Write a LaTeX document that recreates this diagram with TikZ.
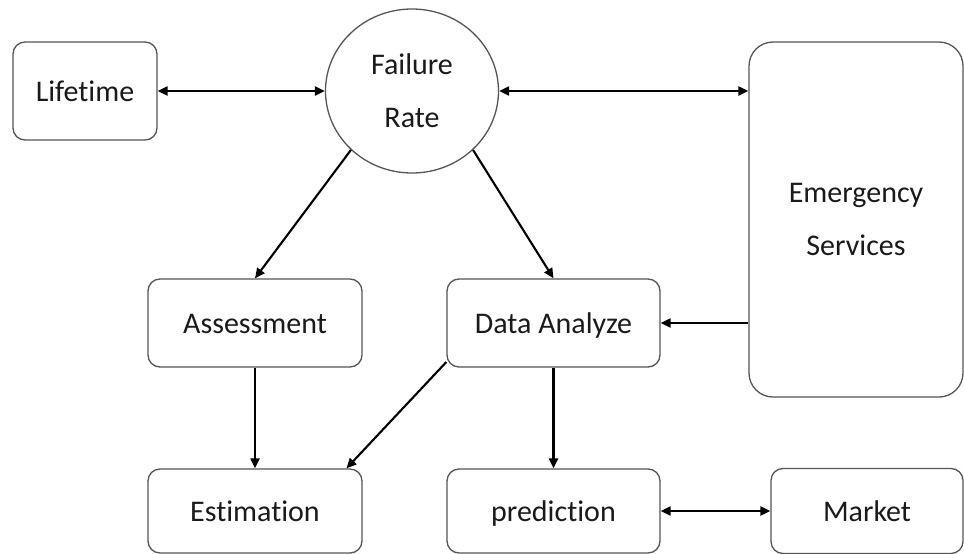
\documentclass[tikz,border=0pt]{standalone}
\usepackage{fontspec}
\setmainfont{Carlito}[Ligatures=CommonOff]
\usetikzlibrary{arrows.meta,shapes.geometric}
\definecolor{edgegrey}{HTML}{555555}
\definecolor{inkdark}{HTML}{1A1A1A}
\begin{document}
\begin{tikzpicture}[x=1pt,y=-1pt,
  every node/.style={font=\fontsize{30}{53}\selectfont,text=inkdark},
  frame/.style={draw=edgegrey,line width=1.3pt,rectangle,inner sep=0pt},
  box/.style={frame,rounded corners=12pt,text height=23pt,text depth=2pt},
  tallbox/.style={frame,rounded corners=24pt,align=center},
  bubble/.style={draw=edgegrey,line width=1.3pt,ellipse,inner sep=0pt,
                 minimum width=173pt,minimum height=164pt,align=center},
  link/.style={draw=black,line width=2.1pt,-{Triangle[length=10pt,width=9pt]}},
  dlink/.style={draw=black,line width=2.1pt,
                {Triangle[length=10pt,width=9pt]}-{Triangle[length=10pt,width=9pt]}}
]
\useasboundingbox (0,0) rectangle (964,554);

% nodes
\node[box,minimum width=144pt,minimum height=98pt] (life) at (85,91) {Lifetime};
\node[bubble] (fr) at (412,91) {Failure\\Rate};
\node[tallbox,minimum width=214pt,minimum height=355pt] (es) at (856,219.5) {Emergency\\Services};
\node[box,minimum width=214pt,minimum height=88pt] (as) at (255,323) {Assessment};
\node[box,minimum width=213pt,minimum height=88pt] (da) at (553.5,323) {Data Analyze};
\node[box,minimum width=214pt,minimum height=84pt] (est) at (255,511) {Estimation};
\node[box,minimum width=213pt,minimum height=84pt] (pred) at (553.5,511) {prediction};
\node[box,minimum width=192pt,minimum height=85pt] (mk) at (867,511) {Market};

% connectors
\draw[dlink] (life.east) -- (fr.west);
\draw[dlink] (fr.east) -- (fr.east -| es.west);
\draw[link] (fr.224) -- (as.north);
\draw[link] (fr.-44) -- (da.north);
\draw[link] (da.east -| es.west) -- (da.east);
\draw[link] (as.south) -- (est.north);
\draw[link] (da.200) -- (est.25);
\draw[link] (da.south) -- (pred.north);
\draw[dlink] (pred.east) -- (mk.west);
\end{tikzpicture}
\end{document}
